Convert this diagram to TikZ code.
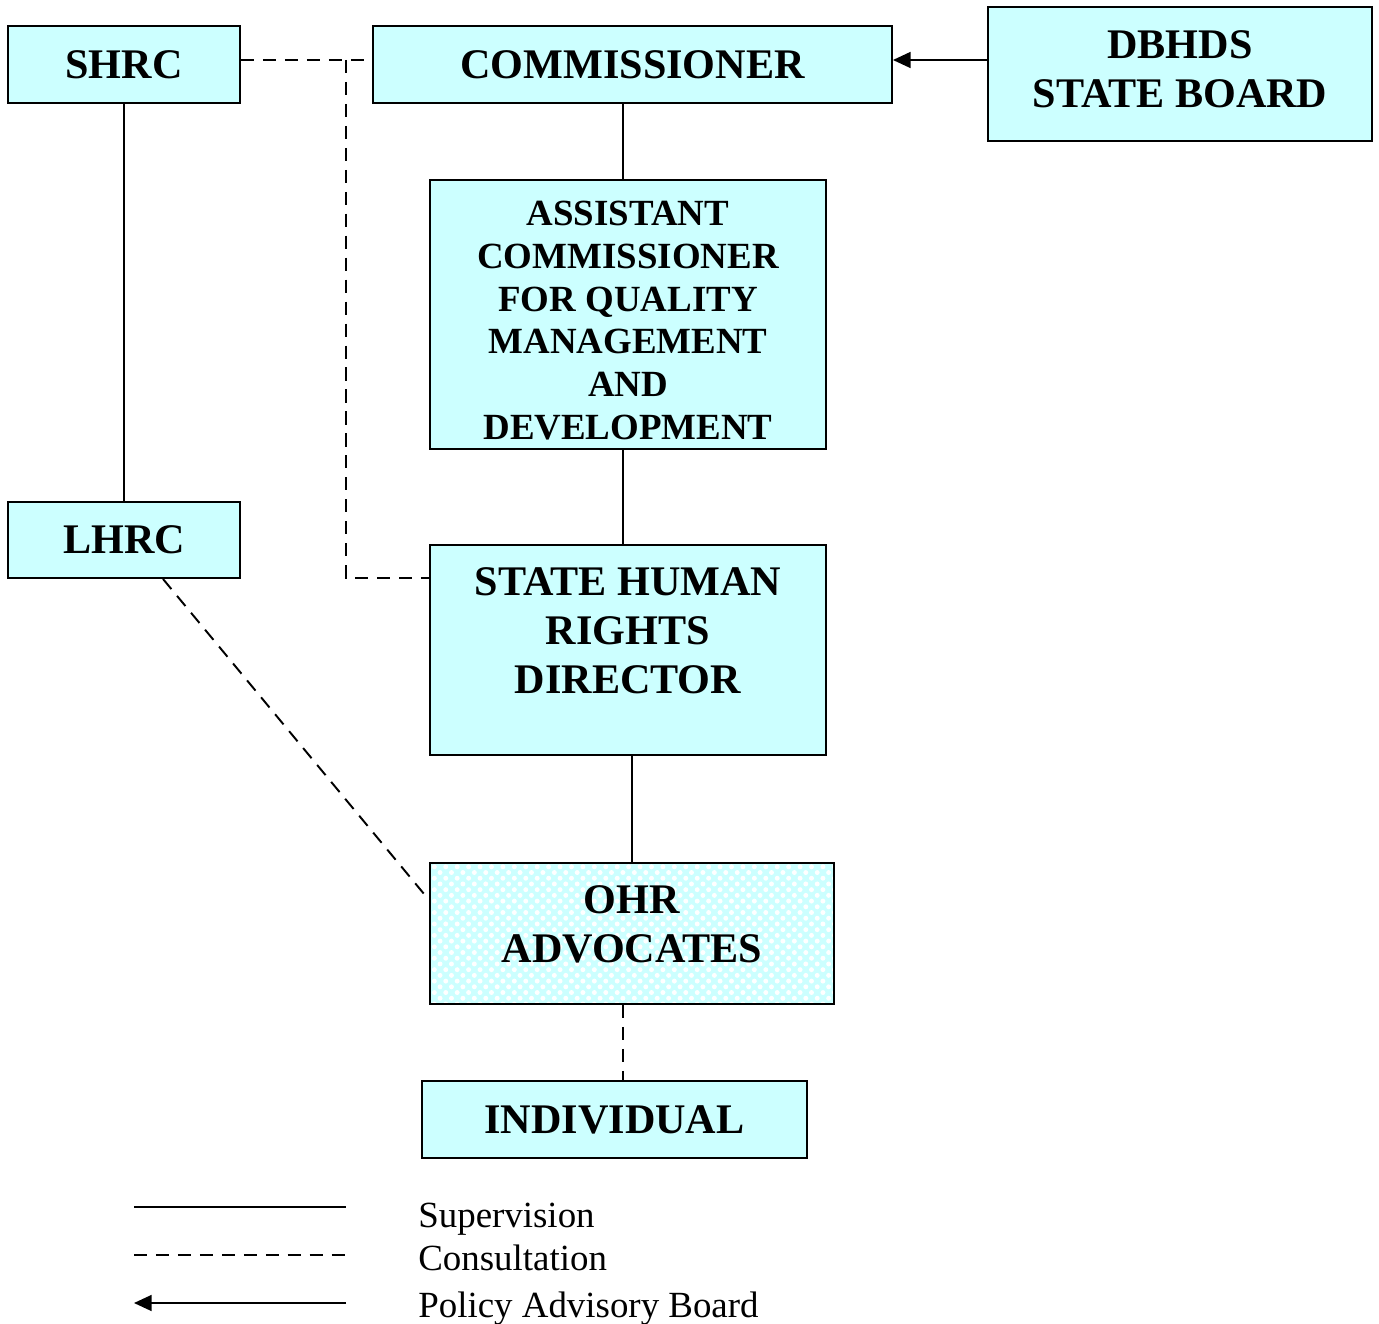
\documentclass[tikz,border=0pt]{standalone}
\usepackage{fontspec}
\setmainfont{Liberation Serif}
\usetikzlibrary{arrows.meta,positioning,calc,patterns.meta}
\definecolor{boxcyan}{RGB}{204,255,255}

\begin{document}
\begin{tikzpicture}[x=0.02cm,y=-0.02cm]
  \tikzstyle{box}=[draw=black, fill=boxcyan, line width=1.1pt, inner sep=0pt]
  \tikzstyle{dotbox}=[draw=black, line width=1.1pt, inner sep=0pt, preaction={fill=boxcyan}, pattern={Dots[radius=1.4pt,distance=4.6pt,angle=45]}, pattern color=white]
  \tikzstyle{bigtext}=[font=\fontsize{24}{27.8}\selectfont\bfseries, align=center]
  \tikzstyle{smalltext}=[font=\fontsize{21}{24.4}\selectfont\bfseries, align=center]
  \tikzstyle{keytext}=[font=\fontsize{21}{24}\selectfont, anchor=base west, inner sep=0pt]
  \tikzstyle{sup}=[draw=black, line width=1.1pt]
  \tikzstyle{cons}=[draw=black, line width=1.1pt, dash pattern=on 7.5pt off 5pt]
  \tikzstyle{adv}=[draw=black, line width=1.1pt, >={Triangle[length=10pt,width=9pt]}]
  \def\px{0.02cm}
  \def\spine{623}

  \useasboundingbox (0,0) rectangle (1379,1324);

  \node [box,bigtext,minimum width=232*\px,minimum height=77*\px] (shrc) at (124,64.5) {SHRC};
  \node [box,bigtext,minimum width=519*\px,minimum height=77*\px] (comm) at (632.5,64.5) {COMMISSIONER};
  \node [box,minimum width=384*\px,minimum height=134*\px] (dbhds) at (1180,74) {};
  \node [bigtext] (dbhdstext) at ($(dbhds)+(0,-5)$) {DBHDS\\STATE BOARD};
  \node [box,minimum width=396*\px,minimum height=269*\px] (asst) at (628,314.5) {};
  \node [smalltext] (assttext) at ($(asst)+(0,6)$) {ASSISTANT\\COMMISSIONER\\FOR QUALITY\\MANAGEMENT\\AND\\DEVELOPMENT};
  \node [box,bigtext,minimum width=232*\px,minimum height=76*\px] (lhrc) at (124,540) {LHRC};
  \node [box,minimum width=396*\px,minimum height=210*\px] (shrd) at (628,650) {};
  \node [bigtext] (shrdtext) at ($(shrd)+(0,-19)$) {STATE HUMAN\\RIGHTS\\DIRECTOR};
  \node [dotbox,minimum width=404*\px,minimum height=141*\px] (ohr) at (632,933.5) {};
  \node [bigtext] (ohrtext) at ($(ohr)+(0,-9)$) {OHR\\ADVOCATES};
  \node [box,bigtext,minimum width=385*\px,minimum height=77*\px] (ind) at (614.5,1119.5) {INDIVIDUAL};

  % lines of the chart
  \coordinate (junc) at (346,60);
  \coordinate (shrdin) at (shrd.west |- 0,578);
  \draw [cons] (shrc.east |- junc) -- (comm.west |- junc);
  \draw [cons] (junc) |- (shrdin);
  \draw [sup] (shrc) -- (lhrc);
  \draw [sup] (comm.south -| \spine,0) -- (asst.north -| \spine,0);
  \draw [sup] (asst.south -| \spine,0) -- (shrd.north -| \spine,0);
  \draw [sup] (shrd.south -| ohr.north) -- (ohr.north);
  \draw [cons] (lhrc.south -| 163,0) -- (ohr.west |- 0,900);
  \draw [cons] (ohr.south -| \spine,0) -- (ind.north -| \spine,0);
  \draw [adv,->] (dbhds.west |- junc) -- (comm.east |- junc);

  % key
  \coordinate (sup0) at (134,1207);
  \coordinate (sup1) at (346,1207);
  \coordinate (cons0) at (134,1255);
  \coordinate (cons1) at (346,1255);
  \coordinate (adv0) at (134,1303);
  \coordinate (adv1) at (346,1303);
  \draw [sup] (sup0) -- (sup1);
  \draw [cons] (cons0) -- (cons1);
  \draw [adv,->] (adv1) -- (adv0);
  \node [keytext] (supkey) at (418,1227) {Supervision};
  \node [keytext] (conskey) at (418,1270) {Consultation};
  \node [keytext] (advkey) at (418,1317) {Policy Advisory Board};
\end{tikzpicture}
\end{document}
